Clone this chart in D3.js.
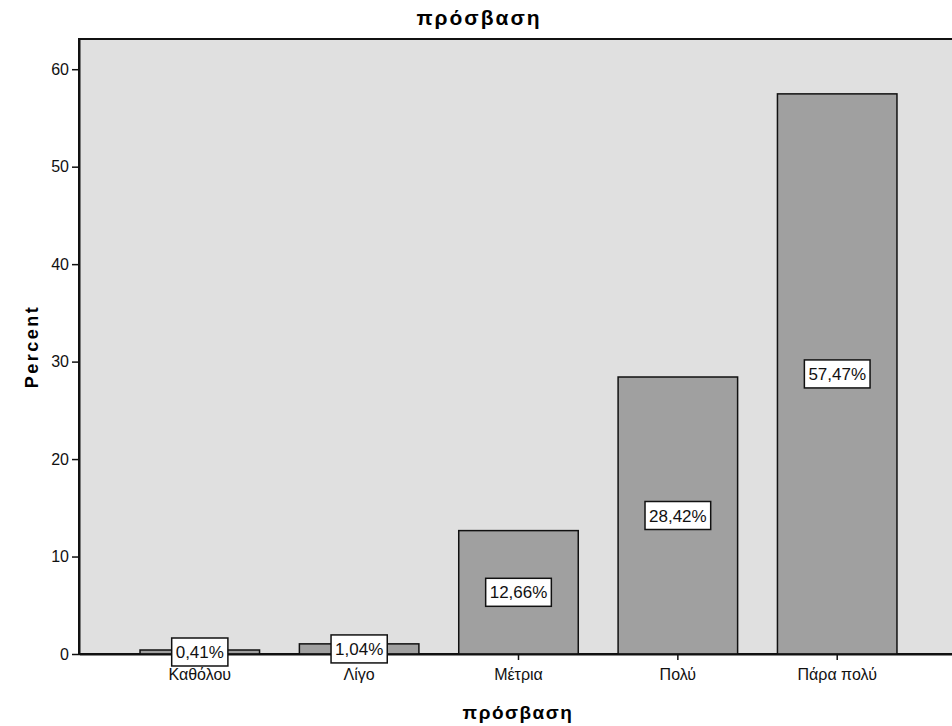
<!DOCTYPE html>
<html>
<head>
<meta charset="utf-8">
<script src="https://cdn.jsdelivr.net/npm/d3@7"></script>
<style>
  body { margin: 0; background: #fff; }
  svg { display: block; font-family: "Liberation Sans", Arial, sans-serif; }
</style>
</head>
<body>
<div id="chart"></div>
<script>
// --- data ---
const categories = ["Καθόλου", "Λίγο", "Μέτρια", "Πολύ", "Πάρα πολύ"];
const percents = [0.41, 1.04, 12.66, 28.42, 57.47];
const percentLabels = ["0,41%", "1,04%", "12,66%", "28,42%", "57,47%"];
const yTicks = [0, 10, 20, 30, 40, 50, 60];

// --- layout ---
const width = 952;
const height = 726;
const plot = { left: 79, top: 39, right: 958, bottom: 654 };
const FONT = "Liberation Sans, Arial, sans-serif";

const svg = d3.select("#chart")
  .append("svg")
  .attr("width", width)
  .attr("height", height);

const x = d3.scaleBand()
  .domain(categories)
  .range([plot.left, plot.right])
  .paddingInner(0.25)
  .paddingOuter(0.383);

const y = d3.scaleLinear()
  .domain([0, 63.1])
  .range([plot.bottom, plot.top]);

// plot background + frame
svg.append("rect")
  .attr("x", plot.left)
  .attr("y", plot.top)
  .attr("width", plot.right - plot.left)
  .attr("height", plot.bottom - plot.top)
  .attr("fill", "#e0e0e0")
  .attr("stroke", "#111")
  .attr("stroke-width", 2);

// bars
svg.selectAll("rect.bar")
  .data(categories)
  .join("rect")
  .attr("class", "bar")
  .attr("x", d => x(d))
  .attr("y", (d, i) => y(percents[i]))
  .attr("width", x.bandwidth())
  .attr("height", (d, i) => y(0) - y(percents[i]))
  .attr("fill", "#a0a0a0")
  .attr("stroke", "#111")
  .attr("stroke-width", 1.5);

// y axis
const yAxis = d3.axisLeft(y)
  .tickValues(yTicks)
  .tickSize(7)
  .tickSizeOuter(0)
  .tickPadding(3)
  .tickFormat(d3.format("d"));

const yG = svg.append("g")
  .attr("transform", `translate(${plot.left},0)`)
  .call(yAxis);
yG.attr("font-size", null).attr("font-family", null);
yG.select(".domain").attr("stroke", "#111").attr("stroke-width", 2);
yG.selectAll(".tick line").attr("stroke", "#111").attr("stroke-width", 1.5);
yG.selectAll(".tick text")
  .attr("font-family", FONT)
  .attr("font-size", 16)
  .attr("fill", "#111");

// x axis
const xAxis = d3.axisBottom(x)
  .tickSize(6)
  .tickSizeOuter(0)
  .tickPadding(9);

const xG = svg.append("g")
  .attr("transform", `translate(0,${plot.bottom})`)
  .call(xAxis);
xG.attr("font-size", null).attr("font-family", null);
xG.select(".domain").attr("stroke", "#111").attr("stroke-width", 2);
xG.selectAll(".tick line").attr("stroke", "#111").attr("stroke-width", 1.5);
xG.selectAll(".tick text")
  .attr("font-family", FONT)
  .attr("font-size", 16)
  .attr("fill", "#111");

// value labels in boxes, centred at half bar height
const labelG = svg.selectAll("g.value-label")
  .data(categories)
  .join("g")
  .attr("class", "value-label")
  .attr("transform", (d, i) => `translate(${x(d) + x.bandwidth() / 2},${y(percents[i] / 2)})`);

labelG.append("text")
  .attr("text-anchor", "middle")
  .attr("dy", "0.36em")
  .attr("font-family", FONT)
  .attr("font-size", 17)
  .attr("fill", "#111")
  .text((d, i) => percentLabels[i]);

labelG.each(function () {
  const g = d3.select(this);
  const bb = g.select("text").node().getBBox();
  g.insert("rect", "text")
    .attr("x", bb.x - 4)
    .attr("y", -14)
    .attr("width", bb.width + 8)
    .attr("height", 28)
    .attr("fill", "#fff")
    .attr("stroke", "#111")
    .attr("stroke-width", 1.5);
});

// titles
svg.append("text")
  .attr("x", 479)
  .attr("y", 25)
  .attr("text-anchor", "middle")
  .attr("font-family", FONT)
  .attr("font-size", 21)
  .attr("font-weight", "bold")
  .attr("letter-spacing", 2)
  .text("πρόσβαση");

svg.append("text")
  .attr("x", 518)
  .attr("y", 719)
  .attr("text-anchor", "middle")
  .attr("font-family", FONT)
  .attr("font-size", 19)
  .attr("font-weight", "bold")
  .attr("letter-spacing", 1.5)
  .text("πρόσβαση");

svg.append("text")
  .attr("transform", `translate(38,${(plot.top + plot.bottom) / 2}) rotate(-90)`)
  .attr("text-anchor", "middle")
  .attr("font-family", FONT)
  .attr("font-size", 18)
  .attr("font-weight", "bold")
  .attr("letter-spacing", 2.5)
  .text("Percent");
</script>
</body>
</html>
